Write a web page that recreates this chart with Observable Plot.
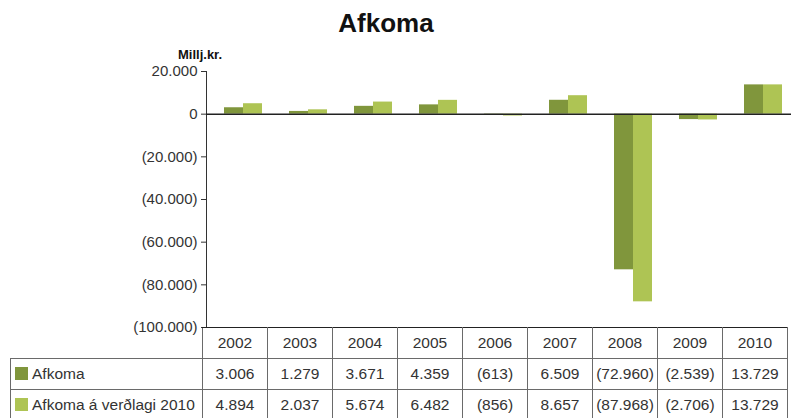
<!DOCTYPE html>
<html><head><meta charset="utf-8">
<script src="https://cdn.jsdelivr.net/npm/d3@7"></script>
<script src="https://cdn.jsdelivr.net/npm/@observablehq/plot@0.6"></script>
<style>
body{margin:0;background:#fff;font-family:"Liberation Sans",Arial,sans-serif;}
#wrap{position:relative;width:803px;height:418px;overflow:hidden;}
#title{position:absolute;left:0;width:772px;top:10px;text-align:center;font-weight:bold;font-size:26px;line-height:26px;color:#111;}
#unit{position:absolute;left:178px;top:48px;font-weight:bold;font-size:13px;line-height:13px;color:#111;}
#chart{position:absolute;left:0;top:0;}
table{position:absolute;top:327px;left:10px;border-collapse:collapse;table-layout:fixed;font-size:15.5px;color:#333;background:transparent;}
td{height:30px;padding:0;text-align:center;border:1px solid #6a6a6a;white-space:nowrap;}
tr.yr td{border-top:1.5px solid #222;}
tr.yr td.blank{border:none;}
td.hd{text-align:left;padding-left:4px;}
.sw{display:inline-block;width:13px;height:13px;margin-right:4px;vertical-align:-1px;}
</style></head>
<body>
<div id="wrap">
  <div id="chart"></div>
  <div id="title">Afkoma</div>
  <div id="unit">Millj.kr.</div>
</div>
<script>
const years = ["2002","2003","2004","2005","2006","2007","2008","2009","2010"];
const seriesNames = ["Afkoma", "Afkoma á verðlagi 2010"];
const afkoma = [3006, 1279, 3671, 4359, -613, 6509, -72960, -2539, 13729];
const afkomaVerdlag = [4894, 2037, 5674, 6482, -856, 8657, -87968, -2706, 13729];
const colors = ["#80963c", "#aec454"];
const yTicks = [20000, 0, -20000, -40000, -60000, -80000, -100000];

const loc = d3.formatLocale({decimal: ",", thousands: ".", grouping: [3], currency: ["", ""]});
const f0 = loc.format(",d");
const fmt = v => v < 0 ? `(${f0(-v)})` : f0(v);

const data = [];
years.forEach((y, i) => {
  data.push({year: y, series: seriesNames[0], value: afkoma[i]});
  data.push({year: y, series: seriesNames[1], value: afkomaVerdlag[i]});
});

const chart = Plot.plot({
  width: 803,
  height: 345,
  marginTop: 71,
  marginBottom: 18,
  marginLeft: 202,
  marginRight: 8,
  style: {fontFamily: "'Liberation Sans', Arial, sans-serif", fontSize: "15px", color: "#333", background: "transparent", overflow: "visible"},
  fx: {domain: years, padding: 0, axis: null},
  x: {domain: seriesNames, paddingInner: 0, paddingOuter: 0.69, axis: null},
  y: {domain: [-100000, 20000], ticks: yTicks, tickFormat: fmt, tickSize: 5, tickPadding: 4, label: null, line: true},
  color: {domain: seriesNames, range: colors},
  marks: [
    Plot.barY(data, {fx: "year", x: "series", y: "value", fill: "series", dx: 4}),
    Plot.ruleY([0], {stroke: "#222", strokeWidth: 1.5})
  ]
});
document.getElementById("chart").appendChild(chart);

const fx = chart.scale("fx");
const bw = fx.bandwidth !== undefined ? fx.bandwidth : (795 - 202) / years.length;
const firstW = 202 - 10;

const table = document.createElement("table");
let html = `<colgroup><col style="width:${firstW}px">` + years.map(() => `<col style="width:${bw}px">`).join("") + `</colgroup>`;
html += `<tr class="yr"><td class="blank"></td>` + years.map(y => `<td>${y}</td>`).join("") + `</tr>`;
html += `<tr><td class="hd"><span class="sw" style="background:${colors[0]}"></span>${seriesNames[0]}</td>` + afkoma.map(v => `<td>${fmt(v)}</td>`).join("") + `</tr>`;
html += `<tr><td class="hd"><span class="sw" style="background:${colors[1]}"></span>${seriesNames[1]}</td>` + afkomaVerdlag.map(v => `<td>${fmt(v)}</td>`).join("") + `</tr>`;
table.innerHTML = html;
document.getElementById("wrap").appendChild(table);
</script>
</body></html>
